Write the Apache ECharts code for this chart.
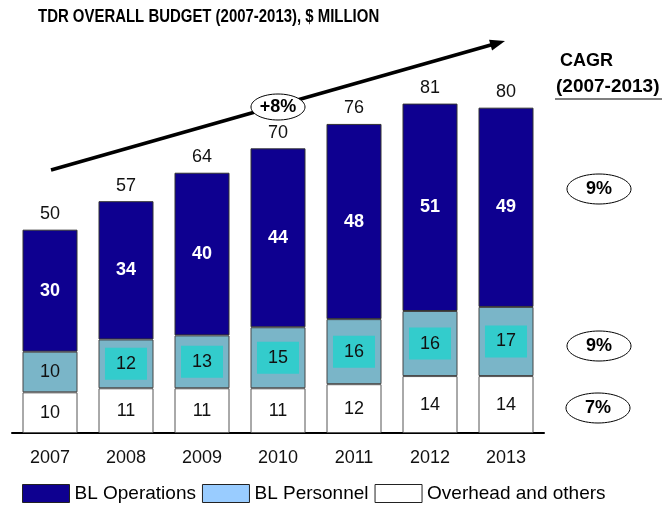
<!DOCTYPE html>
<html>
<head>
<meta charset="utf-8">
<script src="https://cdn.jsdelivr.net/npm/echarts@6/dist/echarts.min.js"></script>
<style>
  html, body { margin: 0; padding: 0; background: #fff; }
  #chart { width: 672px; height: 506px; }
</style>
</head>
<body>
<div id="chart"></div>
<script>
// TDR overall budget by year, $ million
const years = ['2007', '2008', '2009', '2010', '2011', '2012', '2013'];
const overhead = [10, 11, 11, 11, 12, 14, 14];
const personnel = [10, 12, 13, 15, 16, 16, 17];
const operations = [30, 34, 40, 44, 48, 51, 49];
const totals = years.map((_, i) => overhead[i] + personnel[i] + operations[i]);

// Compound annual growth rates, 2007-2013
const cagrTotal = '+8%';
const cagrOperations = '9%';
const cagrPersonnel = '9%';
const cagrOverhead = '7%';

const FONT = "'Liberation Sans', Arial, sans-serif";
const OPS_COLOR = '#0E0090';
const PERS_COLOR = '#7AB5C8';
const PERS_LEGEND = '#99CCFF';
const BOX_COLOR = '#33CCCC';

const chart = echarts.init(document.getElementById('chart'), null, { renderer: 'canvas' });

// Personnel values sit in a cyan box, except the first year
const personnelData = personnel.map((v, i) => i === 0
  ? { value: v, label: { backgroundColor: 'transparent' } }
  : v);

// Trend arrow geometry
const arrowStart = [51, 170];
const arrowTip = [505, 41];
const dx = arrowTip[0] - arrowStart[0], dy = arrowTip[1] - arrowStart[1];
const len = Math.sqrt(dx * dx + dy * dy);
const ux = dx / len, uy = dy / len;
const headLen = 15, headHalf = 5.5;
const baseC = [arrowTip[0] - headLen * ux, arrowTip[1] - headLen * uy];

function ellipseBadge(cx, cy, rx, ry, text) {
  return [
    { type: 'ellipse', z: 100, shape: { cx: cx, cy: cy, rx: rx, ry: ry },
      style: { fill: '#fff', stroke: '#000', lineWidth: 1 } },
    { type: 'text', z: 101, x: cx, y: cy,
      style: { text: text, font: 'bold 18px ' + FONT, fill: '#000',
               textAlign: 'center', textVerticalAlign: 'middle' } }
  ];
}

chart.setOption({
  animation: false,
  backgroundColor: '#fff',
  legend: {
    left: 22, top: 484, padding: 0,
    icon: 'rect',
    itemWidth: 47, itemHeight: 18, itemGap: 6,
    textStyle: { fontFamily: FONT, fontSize: 19, color: '#000' },
    selectedMode: false,
    data: [
      { name: 'BL Operations', itemStyle: { color: OPS_COLOR, borderColor: '#222', borderWidth: 1 } },
      { name: 'BL Personnel', itemStyle: { color: PERS_LEGEND, borderColor: '#222', borderWidth: 1 } },
      { name: 'Overhead and others', itemStyle: { color: '#fff', borderColor: '#222', borderWidth: 1 } }
    ]
  },
  grid: { left: 12, right: 128, top: 67, bottom: 73, containLabel: false },
  xAxis: {
    type: 'category',
    data: years,
    axisLine: { lineStyle: { color: '#000', width: 2 } },
    axisTick: { show: false },
    axisLabel: { fontFamily: FONT, fontSize: 18, color: '#111', margin: 16 }
  },
  yAxis: {
    type: 'value', min: 0, max: 90,
    show: false, splitLine: { show: false }
  },
  series: [
    {
      name: 'Overhead and others', type: 'bar', stack: 'total', barWidth: 55,
      data: overhead,
      itemStyle: { color: '#fff', borderColor: '#555', borderWidth: 1 },
      label: { show: true, position: 'inside', fontFamily: FONT, fontSize: 18, color: '#111' }
    },
    {
      name: 'BL Personnel', type: 'bar', stack: 'total', barWidth: 55,
      data: personnelData,
      itemStyle: { color: PERS_COLOR, borderColor: '#444', borderWidth: 1 },
      label: { show: true, position: 'inside', fontFamily: FONT, fontSize: 18, color: '#111',
               backgroundColor: BOX_COLOR, padding: [7, 11] }
    },
    {
      name: 'BL Operations', type: 'bar', stack: 'total', barWidth: 55,
      data: operations,
      itemStyle: { color: OPS_COLOR, borderColor: '#333', borderWidth: 1 },
      label: { show: true, position: 'inside', fontFamily: FONT, fontSize: 18,
               fontWeight: 'bold', color: '#fff' }
    },
    {
      // invisible carrier for the total labels above each bar
      name: 'Total', type: 'line', data: totals,
      symbol: 'circle', symbolSize: 1, showSymbol: true,
      itemStyle: { color: 'rgba(0,0,0,0)' },
      lineStyle: { width: 0, opacity: 0 },
      label: { show: true, position: 'top', distance: 6, fontFamily: FONT, fontSize: 18, color: '#111' },
      z: 10
    }
  ],
  graphic: [
    // chart heading, condensed bold
    { type: 'text', x: 38, y: 8, scaleX: 0.83, z: 100,
      style: { text: 'TDR OVERALL BUDGET (2007-2013), $ MILLION',
               font: 'bold 18px ' + FONT, fill: '#000' } },
    // growth trend arrow
    { type: 'line', z: 50,
      shape: { x1: arrowStart[0], y1: arrowStart[1], x2: baseC[0] + 2 * ux, y2: baseC[1] + 2 * uy },
      style: { stroke: '#000', lineWidth: 3.5 } },
    { type: 'polygon', z: 50,
      shape: { points: [
        arrowTip,
        [baseC[0] - headHalf * uy, baseC[1] + headHalf * ux],
        [baseC[0] + headHalf * uy, baseC[1] - headHalf * ux]
      ] },
      style: { fill: '#000' } },
    ...ellipseBadge(278, 107, 27, 13, cagrTotal),
    // CAGR column
    { type: 'text', x: 560, y: 52, z: 100,
      style: { text: 'CAGR', font: 'bold 18px ' + FONT, fill: '#000' } },
    { type: 'text', x: 556, y: 77, z: 100,
      style: { text: '(2007-2013)', font: 'bold 19px ' + FONT, fill: '#000' } },
    { type: 'line', z: 100, shape: { x1: 555, y1: 99, x2: 662, y2: 99 },
      style: { stroke: '#000', lineWidth: 1.2 } },
    ...ellipseBadge(599, 189, 32, 15, cagrOperations),
    ...ellipseBadge(599, 346, 32, 15, cagrPersonnel),
    ...ellipseBadge(598, 408, 32, 15, cagrOverhead)
  ]
});
</script>
</body>
</html>
